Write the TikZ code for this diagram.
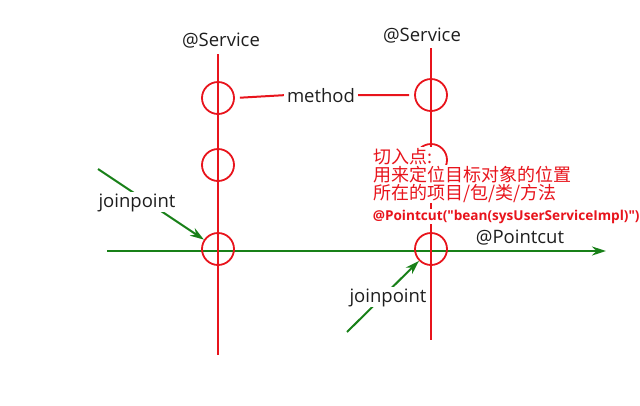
\documentclass[tikz,border=0pt]{standalone}
\usepackage{fontspec}
\setmainfont{Open Sans}
\newfontfamily\cjk{Noto Sans CJK SC}
\newfontfamily\notefont{Open Sans}[Ligatures=TeXOff]
\usetikzlibrary{arrows.meta}
\definecolor{lred}{RGB}{232,20,28}
\definecolor{lgreen}{RGB}{24,128,24}
\definecolor{ink}{RGB}{30,30,30}
\begin{document}
\begin{tikzpicture}[x=1pt,y=-1pt,
  redline/.style={draw=lred,line width=2pt},
  ring/.style={circle,draw=lred,line width=1.8pt,minimum size=32pt,inner sep=0pt},
  greenline/.style={draw=lgreen,line width=2pt},
  garrow/.style={greenline,-{Stealth[length=14pt,width=9pt]}},
  lbl/.style={font=\fontsize{18.5}{20}\selectfont,text=ink,inner sep=1pt,anchor=base},
  note/.style={text=lred,font=\cjk\fontsize{18}{18}\selectfont,fill=white,inner sep=0.6pt,anchor=base west},
  notebold/.style={text=lred,font=\notefont\bfseries\fontsize{13.6}{15}\selectfont,fill=white,inner sep=0.6pt,anchor=base west},
]
\useasboundingbox (0,0) rectangle (640,405);
% coordinates
\coordinate (ltop) at (218,54);
\coordinate (lbot) at (218,355);
\coordinate (rtop) at (431,48);
\coordinate (rbot) at (431,340);
\coordinate (gl) at (107,251);
\coordinate (gr) at (606,251);
\coordinate (jp1s) at (98,169);
\coordinate (jp2s) at (347,332);
% green pointcut line
\draw[garrow] (gl) -- (gr);
% red service lines
\draw[redline] (ltop) -- (lbot);
\draw[redline] (rtop) -- (rbot);
% circles
\node[ring] (c1) at (218,98) {};
\node[ring] (c2) at (218,165) {};
\node[ring] (c3) at (218,249) {};
\node[ring] (c4) at (431,95) {};
\node[ring] (c5) at (431,160) {};
\node[ring] (c6) at (431,249) {};
% method
\node[lbl] (method) at (321,102) {method};
\draw[redline,shorten <=5pt,shorten >=2pt] (c1.east) -- (method.west);
\draw[redline,shorten <=2pt,shorten >=5pt] (method.east) -- (c4.west);
% joinpoint arrows
\draw[garrow] (jp1s) -- (c3);
\draw[garrow] (jp2s) -- (c6);
% labels
\node[lbl] (svc1) at (221,46) {@Service};
\node[lbl] (svc2) at (422,41) {@Service};
\node[lbl,fill=white] (jp1) at (137,207) {joinpoint};
\node[lbl,fill=white] (jp2) at (388,302) {joinpoint};
\node[lbl] (pc) at (520,243) {@Pointcut};
% note
\node[note] (n1) at (373,163) {切入点:};
\node[note] (n2) at (373,181) {用来定位目标对象的位置};
\node[note] (n3) at (373,199) {所在的项目/包/类/方法};
\node[notebold] (n4) at (372,220) {@Pointcut("bean(sysUserServiceImpl)")};
\end{tikzpicture}
\end{document}
